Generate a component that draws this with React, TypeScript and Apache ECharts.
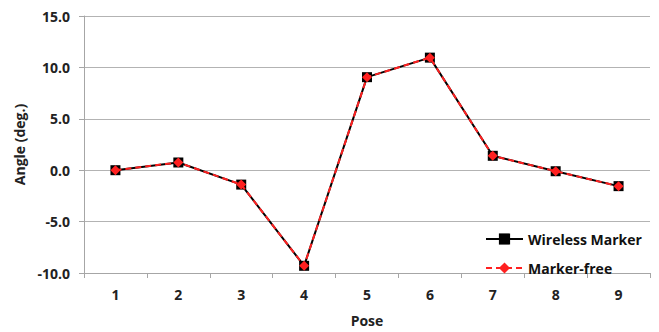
import React, { useEffect, useRef } from "react";
import * as echarts from "echarts";

const poses = ["1", "2", "3", "4", "5", "6", "7", "8", "9"];
const wirelessMarker = [0.0, 0.75, -1.4, -9.3, 9.05, 10.95, 1.4, -0.1, -1.55];
const markerFree = [0.0, 0.75, -1.4, -9.3, 9.05, 10.95, 1.4, -0.1, -1.55];

const FONT = "Open Sans";

export default function App() {
  const ref = useRef<HTMLDivElement>(null);
  useEffect(() => {
    if (!ref.current) return;
    const chart = echarts.init(ref.current, undefined, { renderer: "svg" });
    chart.setOption({
      animation: false,
      backgroundColor: "#ffffff",
      grid: { left: 84, right: 9, top: 16, bottom: 57, containLabel: false },
      legend: {
        orient: "vertical",
        left: 480,
        top: 227,
        itemWidth: 37,
        itemHeight: 14,
        itemGap: 15,
        textStyle: { fontFamily: FONT, fontWeight: "bold", fontSize: 14, color: "#111" },
        data: ["Wireless Marker", "Marker-free"],
      },
      xAxis: {
        type: "category",
        data: poses,
        boundaryGap: true,
        name: "Pose",
        nameLocation: "middle",
        nameGap: 40,
        nameTextStyle: { fontFamily: FONT, fontWeight: "bold", fontSize: 14, color: "#222" },
        axisLine: { onZero: false, lineStyle: { color: "#a6a6a6", width: 1 } },
        axisTick: { show: true, length: 5, lineStyle: { color: "#a6a6a6" } },
        axisLabel: { fontFamily: FONT, fontWeight: "bold", fontSize: 14, color: "#222", margin: 14 },
        splitLine: { show: false },
      },
      yAxis: {
        type: "value",
        min: -10,
        max: 15,
        interval: 5,
        name: "Angle (deg.)",
        nameLocation: "middle",
        nameGap: 55,
        nameRotate: 90,
        nameTextStyle: { fontFamily: FONT, fontWeight: "bold", fontSize: 14, color: "#222" },
        axisLine: { show: true, lineStyle: { color: "#a6a6a6", width: 1 } },
        axisTick: { show: true, length: 5, lineStyle: { color: "#a6a6a6" } },
        axisLabel: {
          fontFamily: FONT,
          fontWeight: "bold",
          fontSize: 14,
          color: "#222",
          margin: 14,
          formatter: (v: number) => v.toFixed(1),
        },
        splitLine: { show: true, lineStyle: { color: "#b3b3b3", width: 1 } },
      },
      series: [
        {
          name: "Wireless Marker",
          type: "line",
          data: wirelessMarker,
          symbol: "rect",
          symbolSize: 10,
          itemStyle: { color: "#000000" },
          lineStyle: { color: "#000000", width: 2 },
          z: 2,
        },
        {
          name: "Marker-free",
          type: "line",
          data: markerFree,
          symbol: "diamond",
          symbolSize: 10,
          itemStyle: { color: "#ff2020" },
          lineStyle: { color: "#ff2020", width: 2, type: [6, 4] },
          z: 3,
        },
      ],
    });
    return () => chart.dispose();
  }, []);
  return <div ref={ref} style={{ width: 659, height: 332, position: "absolute", left: 0, top: 0 }} />;
}
